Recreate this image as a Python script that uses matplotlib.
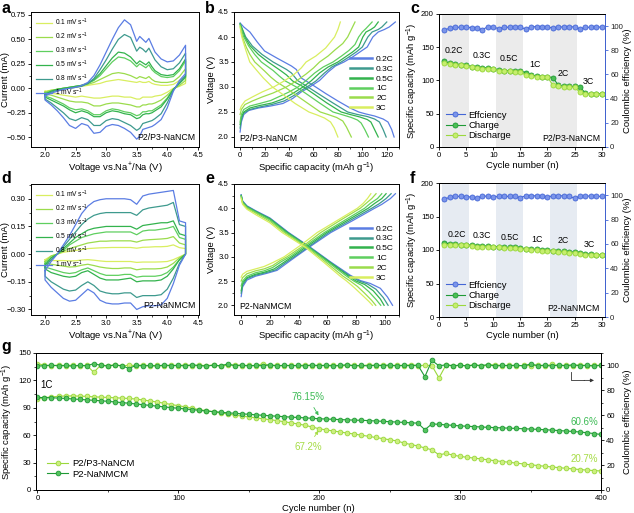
import numpy as np
import matplotlib.pyplot as plt
from matplotlib.ticker import AutoMinorLocator

plt.rcParams['font.family'] = ['Liberation Sans', 'DejaVu Sans']
plt.rcParams['mathtext.fontset'] = 'custom'
plt.rcParams['mathtext.rm'] = 'Liberation Sans'
plt.rcParams['mathtext.it'] = 'Liberation Sans:italic'
plt.rcParams['axes.linewidth'] = 0.7

# ---------------- CV data (a: P2/P3-NaNCM, d: P2-NaNMCM) ----------------
cv_labels = ['0.1 mV s$^{-1}$', '0.2 mV s$^{-1}$', '0.3 mV s$^{-1}$',
             '0.5 mV s$^{-1}$', '0.8 mV s$^{-1}$', '1 mV s$^{-1}$']
cv_colors = ['#d9ee60', '#9bdc4c', '#5fcf5f', '#33b34d', '#3e9a8e', '#5b7de3']

v_a = [2.0, 2.1, 2.2, 2.3, 2.4, 2.5, 2.6, 2.7, 2.8, 2.9, 3.0, 3.1, 3.2, 3.3,
       3.4, 3.5, 3.55, 3.6, 3.65, 3.7, 3.75, 3.8, 3.9, 4.0, 4.1, 4.2, 4.3]
a_ox = [
    [-0.03, -0.02, -0.01, 0.0, 0.0, 0.01, 0.02, 0.03, 0.04, 0.05, 0.07, 0.08, 0.09, 0.08,
     0.07, 0.06, 0.07, 0.06, 0.06, 0.07, 0.05, 0.04, 0.03, 0.03, 0.04, 0.08, 0.12],
    [-0.04, -0.02, -0.01, 0.0, 0.01, 0.02, 0.03, 0.04, 0.06, 0.09, 0.12, 0.15, 0.16, 0.15,
     0.13, 0.10, 0.12, 0.11, 0.10, 0.12, 0.09, 0.07, 0.06, 0.06, 0.07, 0.12, 0.20],
    [-0.05, -0.03, -0.01, 0.0, 0.01, 0.02, 0.03, 0.05, 0.08, 0.13, 0.20, 0.27, 0.32, 0.31,
     0.28, 0.22, 0.25, 0.23, 0.21, 0.24, 0.19, 0.16, 0.12, 0.11, 0.12, 0.18, 0.28],
    [-0.06, -0.03, -0.01, 0.0, 0.01, 0.02, 0.03, 0.05, 0.09, 0.15, 0.23, 0.31, 0.37, 0.36,
     0.32, 0.25, 0.28, 0.26, 0.24, 0.27, 0.22, 0.18, 0.14, 0.13, 0.14, 0.20, 0.30],
    [-0.07, -0.04, -0.02, -0.01, 0.0, 0.01, 0.02, 0.05, 0.10, 0.19, 0.29, 0.40, 0.50, 0.55,
     0.52, 0.38, 0.42, 0.40, 0.37, 0.41, 0.35, 0.29, 0.22, 0.19, 0.20, 0.26, 0.36],
    [-0.08, -0.05, -0.03, -0.01, 0.0, 0.01, 0.03, 0.06, 0.13, 0.24, 0.37, 0.50, 0.62, 0.70,
     0.65, 0.48, 0.53, 0.50, 0.47, 0.51, 0.44, 0.37, 0.30, 0.27, 0.28, 0.34, 0.44],
]
a_red = [
    [-0.05, -0.05, -0.06, -0.07, -0.08, -0.09, -0.08, -0.09, -0.10, -0.10, -0.09, -0.08, -0.08, -0.09,
     -0.09, -0.11, -0.11, -0.09, -0.09, -0.09, -0.09, -0.08, -0.07, -0.04, 0.0, 0.02, 0.05],
    [-0.06, -0.07, -0.09, -0.11, -0.13, -0.14, -0.14, -0.15, -0.18, -0.18, -0.16, -0.15, -0.15, -0.16,
     -0.17, -0.19, -0.19, -0.17, -0.17, -0.16, -0.16, -0.15, -0.12, -0.07, -0.01, 0.03, 0.08],
    [-0.08, -0.10, -0.13, -0.16, -0.20, -0.22, -0.21, -0.23, -0.27, -0.27, -0.23, -0.21, -0.22, -0.24,
     -0.25, -0.28, -0.27, -0.24, -0.24, -0.23, -0.23, -0.21, -0.17, -0.10, -0.01, 0.05, 0.11],
    [-0.09, -0.12, -0.15, -0.18, -0.22, -0.25, -0.23, -0.25, -0.29, -0.29, -0.25, -0.23, -0.24, -0.26,
     -0.27, -0.31, -0.30, -0.27, -0.26, -0.26, -0.25, -0.23, -0.19, -0.11, -0.01, 0.05, 0.12],
    [-0.11, -0.15, -0.20, -0.25, -0.31, -0.33, -0.30, -0.32, -0.38, -0.38, -0.33, -0.31, -0.32, -0.35,
     -0.38, -0.43, -0.41, -0.36, -0.35, -0.34, -0.33, -0.31, -0.26, -0.15, -0.02, 0.06, 0.13],
    [-0.12, -0.17, -0.23, -0.30, -0.38, -0.41, -0.36, -0.38, -0.46, -0.45, -0.39, -0.37, -0.38, -0.41,
     -0.45, -0.52, -0.49, -0.42, -0.41, -0.40, -0.39, -0.37, -0.32, -0.20, -0.03, 0.08, 0.15],
]

v_d = [2.0, 2.1, 2.2, 2.3, 2.4, 2.5, 2.6, 2.7, 2.8, 2.9, 3.0, 3.1,
       3.2, 3.3, 3.4, 3.5, 3.6, 3.7, 3.8, 3.9, 4.0, 4.1, 4.2, 4.3]
d_ox = [
    [-0.03, -0.01, 0.0, 0.01, 0.015, 0.02, 0.025, 0.03, 0.032, 0.034, 0.035, 0.036,
     0.036, 0.036, 0.036, 0.032, 0.037, 0.038, 0.04, 0.04, 0.042, 0.05, 0.035, 0.03],
    [-0.04, -0.01, 0.0, 0.015, 0.03, 0.04, 0.05, 0.06, 0.065, 0.07, 0.07, 0.072,
     0.072, 0.072, 0.072, 0.065, 0.075, 0.078, 0.08, 0.082, 0.085, 0.095, 0.06, 0.05],
    [-0.05, -0.02, 0.0, 0.02, 0.05, 0.07, 0.09, 0.10, 0.11, 0.115, 0.12, 0.12,
     0.12, 0.12, 0.12, 0.105, 0.125, 0.13, 0.13, 0.135, 0.14, 0.15, 0.09, 0.08],
    [-0.06, -0.02, 0.0, 0.03, 0.06, 0.09, 0.11, 0.13, 0.14, 0.145, 0.15, 0.15,
     0.15, 0.15, 0.15, 0.135, 0.155, 0.16, 0.165, 0.17, 0.17, 0.18, 0.11, 0.10],
    [-0.07, -0.03, 0.0, 0.04, 0.08, 0.12, 0.16, 0.19, 0.21, 0.22, 0.225, 0.225,
     0.225, 0.225, 0.225, 0.21, 0.24, 0.25, 0.255, 0.26, 0.265, 0.28, 0.16, 0.15],
    [-0.09, -0.04, 0.0, 0.05, 0.10, 0.16, 0.22, 0.26, 0.285, 0.295, 0.30, 0.30,
     0.30, 0.30, 0.295, 0.27, 0.315, 0.325, 0.33, 0.335, 0.34, 0.345, 0.18, 0.17],
]
d_red = [
    [-0.035, -0.035, -0.035, -0.035, -0.037, -0.036, -0.032, -0.03, -0.033, -0.037, -0.04, -0.04,
     -0.04, -0.04, -0.04, -0.045, -0.043, -0.043, -0.043, -0.042, -0.04, -0.03, -0.015, 0.0],
    [-0.05, -0.055, -0.06, -0.065, -0.07, -0.068, -0.06, -0.055, -0.062, -0.07, -0.075, -0.078,
     -0.078, -0.075, -0.075, -0.085, -0.08, -0.08, -0.08, -0.078, -0.07, -0.05, -0.02, 0.0],
    [-0.07, -0.08, -0.09, -0.10, -0.105, -0.10, -0.085, -0.075, -0.09, -0.105, -0.115, -0.115,
     -0.115, -0.11, -0.11, -0.125, -0.12, -0.12, -0.12, -0.115, -0.10, -0.07, -0.03, 0.0],
    [-0.08, -0.10, -0.11, -0.12, -0.125, -0.12, -0.10, -0.09, -0.11, -0.13, -0.14, -0.14,
     -0.14, -0.135, -0.13, -0.15, -0.145, -0.145, -0.145, -0.14, -0.12, -0.08, -0.03, 0.0],
    [-0.12, -0.15, -0.17, -0.19, -0.20, -0.195, -0.17, -0.15, -0.17, -0.20, -0.21, -0.215,
     -0.215, -0.21, -0.21, -0.235, -0.225, -0.225, -0.225, -0.22, -0.19, -0.13, -0.05, 0.0],
    [-0.14, -0.18, -0.21, -0.24, -0.255, -0.25, -0.22, -0.19, -0.21, -0.25, -0.265, -0.27,
     -0.27, -0.265, -0.265, -0.30, -0.285, -0.28, -0.28, -0.275, -0.24, -0.16, -0.06, 0.0],
]

# ---------------- charge / discharge profiles (b, e) ----------------
rates = ['0.2C', '0.3C', '0.5C', '1C', '2C', '3C']
rate_colors = ['#5b7de3', '#3e9a8e', '#33b34d', '#5fcf5f', '#9bdc4c', '#d9ee60']

b_dis_cap = [
    [0, 3, 8, 14, 20, 30, 42, 46, 50, 60, 70, 80, 90, 97, 103, 110, 117, 121, 124, 126],
    [0, 2, 4.6, 10, 18, 27, 38, 42, 47, 55.5, 65, 76, 88, 96, 104, 110, 114, 117, 119.5],
    [0, 1.8, 3.8, 8, 15, 22.9, 33, 38, 43, 52, 61, 71, 82.7, 90, 98, 104, 107, 110, 113],
    [0, 1.5, 3, 7, 12, 17.4, 27, 32, 37, 46, 55, 65, 76, 83, 91, 96, 99, 102, 105],
    [0, 1, 1.9, 5, 8, 12, 20, 25, 30, 36.5, 45, 55, 65.6, 72, 79, 84, 87, 91],
    [0, 1, 2, 4.5, 7.9, 13, 19, 26.4, 35, 45, 56.3, 63, 69, 74, 77, 80],
]
b_dis_v = [
    [4.28, 4.2, 4.1, 3.9, 3.72, 3.58, 3.42, 3.35, 3.18, 3.03, 2.87, 2.72, 2.58, 2.50, 2.46, 2.42, 2.36, 2.30, 2.15, 2.0],
    [4.27, 4.15, 4.0, 3.82, 3.65, 3.5, 3.35, 3.28, 3.13, 3.0, 2.85, 2.68, 2.5, 2.45, 2.41, 2.36, 2.30, 2.15, 2.0],
    [4.26, 4.15, 4.0, 3.83, 3.65, 3.5, 3.33, 3.24, 3.12, 3.0, 2.85, 2.68, 2.5, 2.45, 2.40, 2.35, 2.30, 2.15, 2.0],
    [4.25, 4.12, 4.0, 3.82, 3.65, 3.5, 3.33, 3.22, 3.12, 3.0, 2.85, 2.68, 2.5, 2.45, 2.39, 2.34, 2.28, 2.15, 2.0],
    [4.22, 4.1, 4.0, 3.8, 3.65, 3.5, 3.32, 3.2, 3.1, 3.0, 2.85, 2.68, 2.5, 2.45, 2.39, 2.32, 2.2, 2.0],
    [4.2, 4.05, 3.95, 3.75, 3.5, 3.35, 3.18, 3.0, 2.85, 2.67, 2.5, 2.44, 2.38, 2.3, 2.18, 2.0],
]
b_chg_cap = [
    [0, 1, 3, 7, 15, 25, 35, 43, 50, 57, 65, 72, 78, 85, 92, 98, 104, 108.6, 113, 118, 122, 127],
    [0, 1, 3, 8, 16, 26, 36, 44, 50, 54.7, 62, 69, 75, 82.7, 89, 95, 100, 104.5, 108, 113, 116, 120],
    [0, 1, 3, 8, 16, 26, 35, 43, 51.4, 58, 65, 72, 80, 86, 92, 97, 100.4, 103, 107, 110, 113],
    [0, 1, 3, 8, 16, 25, 33, 40, 47.3, 54, 61, 68, 76, 83, 89, 94, 97, 100, 103, 108],
    [0, 1, 4, 10, 18, 27, 37.8, 46, 54, 60, 65, 72, 78, 84, 88, 90, 92, 94],
    [0, 1, 4, 10, 18, 27.5, 36, 44, 50, 54, 62, 70, 77.3, 80, 82],
]
b_chg_v = [
    [2.1, 2.3, 2.45, 2.53, 2.58, 2.62, 2.67, 2.77, 2.9, 3.0, 3.13, 3.3, 3.42, 3.5, 3.6, 3.7, 3.8, 4.0, 4.1, 4.15, 4.2, 4.3],
    [2.18, 2.35, 2.48, 2.55, 2.6, 2.65, 2.72, 2.83, 2.93, 3.0, 3.12, 3.28, 3.4, 3.5, 3.6, 3.7, 3.8, 4.0, 4.1, 4.15, 4.2, 4.3],
    [2.25, 2.4, 2.5, 2.58, 2.63, 2.68, 2.76, 2.87, 3.0, 3.12, 3.28, 3.4, 3.5, 3.6, 3.7, 3.8, 4.0, 4.1, 4.15, 4.2, 4.3],
    [2.3, 2.45, 2.55, 2.62, 2.67, 2.73, 2.82, 2.9, 3.0, 3.13, 3.28, 3.4, 3.5, 3.62, 3.73, 3.85, 4.0, 4.1, 4.17, 4.3],
    [2.45, 2.55, 2.65, 2.72, 2.8, 2.88, 3.0, 3.12, 3.26, 3.38, 3.5, 3.62, 3.75, 3.87, 4.0, 4.1, 4.2, 4.3],
    [2.55, 2.62, 2.72, 2.8, 2.9, 3.0, 3.12, 3.25, 3.38, 3.5, 3.62, 3.78, 4.0, 4.15, 4.3],
]

e_dis_cap = [
    [0, 1, 4, 10, 20, 33, 48, 62, 76, 83, 90, 97, 102, 105.5],
    [0, 1, 4, 10, 20, 32.5, 47.5, 61.5, 75, 81.5, 88, 94, 99, 102.4],
    [0, 1, 4, 10, 20, 32, 47, 61, 74, 80, 86, 92, 97, 99.6],
    [0, 1, 4, 10, 20, 31, 46.5, 60, 73, 78.5, 84, 89, 94, 97.3],
    [0, 1, 4, 10, 20, 30, 45.5, 58.5, 71, 76, 81, 86, 91, 93.8],
    [0, 1, 4, 10, 20, 28.5, 44.5, 57, 69, 73.5, 79, 84, 89, 91.5],
]
e_dis_v = [
    [4.28, 4.15, 4.05, 3.95, 3.8, 3.5, 3.2, 2.9, 2.62, 2.51, 2.45, 2.35, 2.17, 2.0],
    [4.27, 4.14, 4.04, 3.94, 3.79, 3.5, 3.2, 2.9, 2.62, 2.51, 2.44, 2.33, 2.16, 2.0],
    [4.26, 4.13, 4.03, 3.93, 3.78, 3.5, 3.2, 2.9, 2.62, 2.5, 2.43, 2.3, 2.13, 2.0],
    [4.25, 4.12, 4.02, 3.92, 3.76, 3.5, 3.2, 2.9, 2.61, 2.5, 2.41, 2.28, 2.12, 2.0],
    [4.23, 4.1, 4.0, 3.9, 3.73, 3.5, 3.2, 2.9, 2.6, 2.5, 2.39, 2.25, 2.1, 2.0],
    [4.2, 4.08, 3.98, 3.87, 3.7, 3.5, 3.2, 2.9, 2.6, 2.5, 2.36, 2.22, 2.08, 2.0],
]
e_chg_cap = [
    [0, 1, 4, 10, 18, 25, 31, 38, 50, 62.5, 78, 93, 98, 104, 107.5],
    [0, 1, 4, 10, 17, 24, 30, 37, 49, 61, 76, 91, 96, 101, 104.5],
    [0, 1, 4, 10, 16, 23, 29, 35.5, 47.5, 59.5, 74, 88.5, 93, 98, 101],
    [0, 1, 4, 10, 16, 22, 28, 34, 46, 58, 72, 86, 90, 95, 98],
    [0, 1, 4, 10, 16, 22, 27, 32, 44.5, 55.5, 69, 83, 87, 91, 94],
    [0, 1, 4, 10, 16, 22, 30, 42, 53, 67, 81, 85, 88, 90.4],
]
e_chg_v = [
    [2.18, 2.38, 2.52, 2.6, 2.66, 2.72, 2.85, 3.0, 3.25, 3.5, 3.75, 4.0, 4.08, 4.2, 4.3],
    [2.25, 2.42, 2.55, 2.62, 2.67, 2.73, 2.86, 3.0, 3.25, 3.5, 3.75, 4.0, 4.09, 4.2, 4.3],
    [2.3, 2.46, 2.57, 2.64, 2.68, 2.75, 2.87, 3.0, 3.25, 3.5, 3.75, 4.0, 4.1, 4.2, 4.3],
    [2.4, 2.5, 2.6, 2.67, 2.71, 2.78, 2.9, 3.0, 3.25, 3.5, 3.75, 4.0, 4.1, 4.2, 4.3],
    [2.5, 2.57, 2.65, 2.71, 2.75, 2.82, 2.92, 3.0, 3.25, 3.5, 3.75, 4.0, 4.1, 4.2, 4.3],
    [2.58, 2.64, 2.7, 2.75, 2.8, 2.88, 3.0, 3.25, 3.5, 3.75, 4.0, 4.1, 4.2, 4.3],
]

# ---------------- rate performance (c, f) ----------------
cycles_rate = list(range(1, 31))
c_eff = [96.5, 98.5, 99, 99, 99, 98.8, 98.5, 97, 99.5, 99, 98, 99, 99, 99, 99,
         97.5, 99.5, 99.5, 99.5, 99, 98.5, 99, 99.5, 99.5, 99.3, 97.5, 99, 99, 99.5, 99]
c_chg = [129, 126, 125, 124, 123, 121, 120, 119, 119, 118, 116, 115, 115, 114, 114,
         112, 108, 107, 106, 106, 104, 93, 91, 91, 91, 90, 81, 80, 80, 80]
c_dis = [126, 125, 124, 123, 122, 120, 119, 118, 118, 117, 115, 114, 114, 113, 113,
         108, 107, 106, 106, 105, 93, 91, 90, 90, 90, 82, 80, 80, 79, 79]
f_eff = [96.5, 98.5, 99, 99, 98.8, 98.5, 97.5, 99.5, 99, 98.5, 99, 99, 99, 99, 98,
         99.5, 99.5, 99.5, 99, 98.5, 99.5, 99.5, 99.5, 99, 97.5, 99, 99, 99.5, 99, 99]
f_chg = [111, 109, 109, 108, 108, 107, 106, 106, 106, 105, 105, 104, 104, 104, 103,
         102, 101, 101, 100, 100, 99, 98, 98, 97, 97, 96, 94, 94, 93, 93]
f_dis = [108, 108, 108, 107, 107, 106, 105, 105, 105, 104, 104, 103, 103, 103, 102,
         101, 100, 100, 99, 99, 98, 97, 97, 96, 96, 94, 93, 93, 93, 92]
rate_text = ['0.2C', '0.3C', '0.5C', '1C', '2C', '3C']
c_text_x = [2.8, 7.9, 12.8, 17.7, 22.9, 27.5]
c_text_y = [139, 131, 126, 117, 104.5, 91]
f_text_x = [3.3, 7.9, 13.1, 18, 22.9, 27.7]
f_text_y = [117, 114.6, 112, 109.7, 107, 102]

# ---------------- long cycling at 1C (g) ----------------
cycles_g = np.arange(0, 401, 5)
g_cap_p2p3 = [100, 101, 102, 102.5, 103, 103, 102.8, 102.5, 102, 101.7,
              101.3, 101, 100.6, 100.2, 99.6, 98.5, 97.5, 96.3, 95, 93.6,
              92.3, 91, 89.5, 88, 86.8, 85.6, 84.5, 83.2, 82, 81,
              80, 79, 78, 77, 76, 74.8, 73.5, 72.3, 70.8, 69,
              67, 65.8, 64.6, 63.5, 62.3, 61.2, 60, 58.8, 57.5, 56.3,
              55, 53.8, 51.5, 49.8, 48.2, 46, 44, 38.5, 40, 38.2,
              36.8, 35.8, 34.9, 34, 33, 32, 31.2, 30.3, 29.4, 28.5,
              27.6, 26.8, 26, 25.2, 24.5, 23.8, 23.1, 22.4, 21.8, 21.3,
              20.8]
g_cap_p2 = [101.3, 101.2, 101, 100.6, 100.2, 99.7, 99.2, 98.7, 98.2, 97.7,
            97.1, 96.4, 95.7, 95, 94.2, 93.4, 92.6, 91.8, 91, 90.2,
            89.5, 88.7, 88, 87.2, 86.5, 85.8, 85.1, 84.5, 84, 83.4,
            82.9, 82.3, 81.8, 81.3, 80.8, 80.3, 79.8, 79.4, 79, 78.5,
            78, 77.7, 77.4, 77.1, 76.8, 76.5, 76.3, 76.0, 75.6, 75.2,
            74.8, 74.4, 74, 73.6, 73.2, 66, 72.4, 71.9, 71.3, 70.8,
            70.2, 69.8, 69.4, 69, 68.6, 68.3, 68, 67.7, 67.4, 67,
            66.8, 66.4, 66, 65.6, 65.1, 64.6, 64.1, 63.5, 62.7, 61.8,
            60.8]
g_ce_p2p3 = [101.5, 100.2, 99.7, 100.4, 99.8, 100.3, 99.6, 100.1, 94.5, 100.3,
             99.8, 100.5, 99.6, 100.2, 99.9, 100.4, 99.7, 100.1, 99.5, 100.3,
             99.8, 100.6, 99.7, 100.2, 99.9, 100.4, 99.6, 100.1, 100.5, 99.8,
             100.2, 99.7, 101.4, 99.9, 100.3, 99.6, 100.2, 99.8, 100.5, 99.7,
             100.1, 99.8, 100.4, 99.6, 100.2, 100, 99.7, 100.5, 99.8, 100.2,
             99.6, 100.3, 99.9, 100.6, 99.7, 100.2, 99.8, 90, 100.4, 99.7,
             100.1, 99.8, 100.5, 99.6, 100.2, 100.7, 99.7, 100.3, 99.5, 100.1,
             99.9, 100.4, 99.6, 100.8, 99.8, 100.2, 99.6, 100.5, 99.8, 100.2,
             100]
g_ce_p2 = [99.5, 99.8, 100.3, 99.6, 100, 99.4, 100.2, 99.7, 101.5, 100.1,
           99.6, 100.3, 99.8, 97.5, 100.2, 99.6, 100, 99.5, 100.4, 99.8,
           100.1, 99.6, 100.5, 99.9, 99.5, 100.2, 99.7, 101.2, 99.8, 100.3,
           99.6, 100.1, 99.7, 100.6, 99.5, 100.2, 99.8, 100, 99.6, 100.4,
           99.8, 100.2, 99.5, 100.1, 100.5, 99.7, 100, 99.6, 100.3, 99.9,
           100.4, 99.6, 100.1, 99.8, 100.3, 91, 104, 99.7, 100.5, 99.8,
           100.2, 99.6, 100.4, 99.9, 100.7, 99.5, 100.1, 99.8, 100.3, 99.6,
           101.2, 99.8, 100.2, 99.5, 100.4, 99.7, 100.6, 99.8, 100.1, 99.5,
           100.2]

# ===================== figure =====================
W, H = 634, 513
fig = plt.figure(figsize=(W / 100, H / 100), dpi=100)


def add_ax(l, t, r, b):
    # pixel box -> figure fraction
    return fig.add_axes([l / W, 1 - b / H, (r - l) / W, (b - t) / H])


def style(ax, minor=True):
    ax.tick_params(direction='out', length=2.5, width=0.6, labelsize=5.6, pad=1.2)
    ax.tick_params(which='minor', direction='out', length=1.5, width=0.5)
    if minor:
        ax.xaxis.set_minor_locator(AutoMinorLocator(2))
        ax.yaxis.set_minor_locator(AutoMinorLocator(2))


def ylab(ax, text, px, width, right=False):
    # place axis label at a fixed pixel offset from the spine
    ax.set_ylabel(text, fontsize=lab_fs)
    x = 1 + px / width if right else -px / width
    ax.yaxis.set_label_coords(x, 0.5)


lab_fs = 6.8
let_fs = 11.5

# ---- a / d : CV ----
for box, vv, ox, red, lim, ticks, name, letter, lpos in [
        ((31, 12, 199, 147), v_a, a_ox, a_red, (-0.6, 0.78),
         [-0.5, -0.25, 0, 0.25, 0.5, 0.75], 'P2/P3-NaNCM', 'a', (1, 1)),
        ((31, 184, 199, 315), v_d, d_ox, d_red, (-0.33, 0.38),
         [-0.3, -0.15, 0, 0.15, 0.3], 'P2-NaNMCM', 'd', (1, 171))]:
    ax = add_ax(*box)
    for i in range(6):
        x = list(vv) + list(vv[::-1]) + [vv[0]]
        y = list(ox[i]) + list(red[i][::-1]) + [ox[i][0]]
        ax.plot(x, y, color=cv_colors[i], lw=0.9, label=cv_labels[i])
    ax.set_xlim(1.77, 4.52)
    ax.set_ylim(*lim)
    ax.set_xticks([2.0, 2.5, 3.0, 3.5, 4.0, 4.5])
    ax.set_yticks(ticks)
    ax.set_yticklabels(['%.2f' % t if t >= 0 else '\u2212%.2f' % -t for t in ticks])
    style(ax)
    ax.set_xlabel('Voltage vs.Na$^{+}$/Na (V)', fontsize=lab_fs, labelpad=1)
    ylab(ax, 'Current (mA)', 21, box[2] - box[0])
    ax.legend(loc='upper left', fontsize=4.8, frameon=False, handlelength=2.4,
              labelspacing=0.4, borderaxespad=0.3, handletextpad=0.5)
    ax.text(0.98, 0.04, name, transform=ax.transAxes, ha='right', va='bottom', fontsize=6.3)
    fig.text(lpos[0] / W, 1 - lpos[1] / H, letter, fontsize=let_fs, fontweight='bold', va='top')

# ---- b / e : charge-discharge ----
for box, dc, dv, cc, cv, xlim, name, letter, lpos in [
        ((234, 12, 399, 147), b_dis_cap, b_dis_v, b_chg_cap, b_chg_v, (-5, 130),
         'P2/P3-NaNCM', 'b', (205, 1)),
        ((234, 184, 399, 315), e_dis_cap, e_dis_v, e_chg_cap, e_chg_v, (-5, 110),
         'P2-NaNMCM', 'e', (205, 171))]:
    ax = add_ax(*box)
    for i in range(6):
        ax.plot(cc[i], cv[i], color=rate_colors[i], lw=0.9, label=rates[i])
        ax.plot(dc[i], dv[i], color=rate_colors[i], lw=0.9)
    ax.set_xlim(*xlim)
    ax.set_ylim(1.8, 4.5)
    ax.set_xticks([0, 20, 40, 60, 80, 100, 120] if xlim[1] > 120 else [0, 20, 40, 60, 80, 100])
    ax.set_yticks([2.0, 2.5, 3.0, 3.5, 4.0, 4.5])
    style(ax)
    ax.set_xlabel('Specific capacity (mAh g$^{-1}$)', fontsize=lab_fs, labelpad=1)
    ylab(ax, 'Voltage (V)', 18, box[2] - box[0])
    leg = ax.legend(loc='center right', bbox_to_anchor=(1.0, 0.47), fontsize=6, frameon=False,
                    handlelength=2.6, labelspacing=0.25, handletextpad=0.5, borderaxespad=0.2)
    for ln in leg.get_lines():
        ln.set_linewidth(1.8)
    ax.text(0.03, 0.03, name, transform=ax.transAxes, ha='left', va='bottom', fontsize=6.3)
    fig.text(lpos[0] / W, 1 - lpos[1] / H, letter, fontsize=let_fs, fontweight='bold', va='top')

# ---- c / f : rate capability ----
eff_col, chg_col, dis_col = '#4466d6', '#1f9a35', '#9ad83c'
for box, eff, chg, dis, tx, ty, shade, name, letter, lpos in [
        ((439, 14, 605, 147), c_eff, c_chg, c_dis, c_text_x, c_text_y, '#ebebeb',
         'P2/P3-NaNCM', 'c', (410, 1)),
        ((439, 183, 605, 317), f_eff, f_chg, f_dis, f_text_x, f_text_y, '#e6ebf2',
         'P2-NaNMCM', 'f', (410, 171))]:
    ax = add_ax(*box)
    axr = ax.twinx()
    for s in (0.5, 10.5, 20.5):
        ax.axvspan(s, s + 5, color=shade, lw=0, zorder=0)
    ax.plot([], [], 'o-', color=eff_col, mfc='#7b95ea', mec=eff_col, ms=3.6, mew=0.6, lw=0.8,
            label='Effciency')
    ax.plot(cycles_rate, chg, 'o-', color=chg_col, mfc='#4cbf55', mec=chg_col, ms=3.6, mew=0.6,
            lw=0.8, label='Charge')
    ax.plot(cycles_rate, dis, 'o-', color=dis_col, mfc='#c6ee6e', mec=dis_col, ms=3.6, mew=0.6,
            lw=0.8, label='Discharge')
    axr.plot(cycles_rate, eff, 'o-', color=eff_col, mfc='#7b95ea', mec=eff_col, ms=3.6, mew=0.6,
             lw=0.8)
    for t, x, y in zip(rate_text, tx, ty):
        ax.text(x, y, t, fontsize=6.3, ha='center', va='bottom')
    ax.set_xlim(0, 30.6)
    ax.set_ylim(0, 200)
    axr.set_ylim(0, 110)
    ax.set_xticks([0, 5, 10, 15, 20, 25, 30])
    ax.set_yticks([0, 50, 100, 150, 200])
    axr.set_yticks([0, 20, 40, 60, 80, 100])
    style(ax, minor=False)
    style(axr, minor=False)
    axr.spines['right'].set_color(eff_col)
    axr.tick_params(axis='y', colors=eff_col, labelcolor='#222222')
    ax.set_xlabel('Cycle number (n)', fontsize=lab_fs, labelpad=1)
    ylab(ax, 'Specific capacity (mAh g$^{-1}$)', 19, box[2] - box[0])
    ylab(axr, 'Coulombic efficiency (%)', 18, box[2] - box[0], right=True)
    ax.legend(loc='lower left', bbox_to_anchor=(0.0, 0.0), fontsize=6.8, frameon=False,
              handlelength=2.0, labelspacing=0.15, handletextpad=0.4, borderaxespad=0.3)
    ax.text(0.97, 0.03, name, transform=ax.transAxes, ha='right', va='bottom', fontsize=6.3)
    fig.text(lpos[0] / W, 1 - lpos[1] / H, letter, fontsize=let_fs, fontweight='bold', va='top')

# ---- g : long cycling ----
ax = add_ax(36, 353, 601, 490)
axr = ax.twinx()
p2p3_col, p2_col = '#9ad83c', '#1f9a35'
ax.plot(cycles_g, g_cap_p2p3, 'o-', color=p2p3_col, mfc='#cdef80', mec=p2p3_col, ms=3.4,
        mew=0.6, lw=0.8, label='P2/P3-NaNCM')
ax.plot(cycles_g, g_cap_p2, 'o-', color=p2_col, mfc='#55c35f', mec=p2_col, ms=3.4,
        mew=0.6, lw=0.8, label='P2-NaNMCM')
axr.plot(cycles_g, g_ce_p2p3, 'o-', color=p2p3_col, mfc='#cdef80', mec=p2p3_col, ms=3.4,
         mew=0.6, lw=0.8)
axr.plot(cycles_g, g_ce_p2, 'o-', color=p2_col, mfc='#55c35f', mec=p2_col, ms=3.4,
         mew=0.6, lw=0.8)
ax.set_xlim(-1, 400)
ax.set_ylim(0, 150)
axr.set_ylim(0, 110)
ax.set_xticks([0, 100, 200, 300, 400])
ax.set_yticks([0, 30, 60, 90, 120, 150])
axr.set_yticks([0, 20, 40, 60, 80, 100])
style(ax)
style(axr, minor=False)
axr.yaxis.set_minor_locator(AutoMinorLocator(2))
ax.set_xlabel('Cycle number (n)', fontsize=lab_fs, labelpad=1)
ylab(ax, 'Specific capacity (mAh g$^{-1}$)', 21, 565)
ylab(axr, 'Coulombic efficiency (%)', 22, 565, right=True)
ax.legend(loc='lower left', bbox_to_anchor=(0.005, 0.02), fontsize=6.8, frameon=False,
          handlelength=2.2, labelspacing=0.2, handletextpad=0.4)
ax.text(2, 109, '1C', fontsize=7, ha='left', va='bottom')
ax.annotate('76.15%', xy=(200.5, 79), xytext=(192, 96), fontsize=7, color='#3dbb55',
            ha='center', va='bottom',
            arrowprops=dict(arrowstyle='-|>', color='#3dbb55', lw=0.6, mutation_scale=5))
ax.annotate('67.2%', xy=(200.5, 67.5), xytext=(192, 42), fontsize=7, color='#a6dc45',
            ha='center', va='bottom',
            arrowprops=dict(arrowstyle='-|>', color='#a6dc45', lw=0.6, mutation_scale=5))
ax.text(388, 69, '60.6%', fontsize=7, color='#3dbb55', ha='center', va='bottom')
ax.text(388, 28.5, '20.7%', fontsize=7, color='#a6dc45', ha='center', va='bottom')
axr.plot([379, 379, 388], [95, 88, 88], color='#333333', lw=0.6)
axr.annotate('', xy=(397, 88), xytext=(386, 88),
             arrowprops=dict(arrowstyle='-|>', color='#333333', lw=0.6, mutation_scale=5))
fig.text(1 / W, 1 - 339 / H, 'g', fontsize=let_fs, fontweight='bold', va='top')

fig.savefig('out.png', dpi=100)
